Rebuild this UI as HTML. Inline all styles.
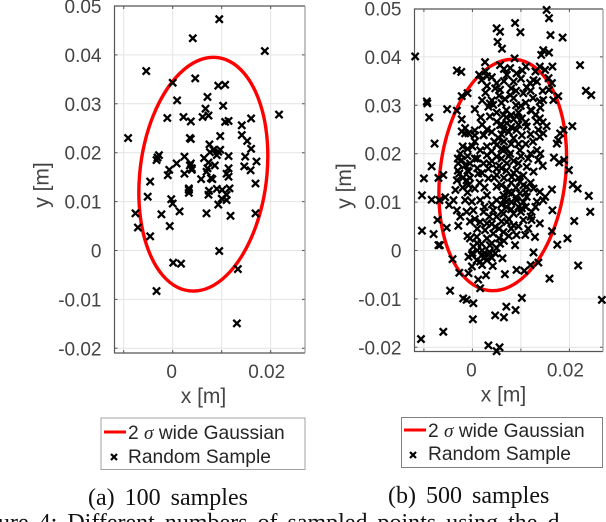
<!DOCTYPE html>
<html>
<head>
<meta charset="utf-8">
<style>
html,body{margin:0;padding:0;background:#fff;width:606px;height:522px;overflow:hidden}
svg{display:block}
text{font-family:"Liberation Sans",sans-serif}
.tick{font-size:19px;fill:#444}
.axt{font-size:21px;fill:#444}
.leg{font-size:19.2px;fill:#262626}
.cap{font-family:"Liberation Serif",serif;font-size:24px;fill:#111;word-spacing:4px}
</style>
</head>
<body>
<svg id="root" width="606" height="522" viewBox="0 0 606 522" xmlns="http://www.w3.org/2000/svg">
  <g id="panelA"></g>
  <g id="panelB"></g>

  <g>
    <rect x="101" y="418" width="204" height="51.5" fill="#fff" stroke="#a0a0a0" stroke-width="1"/>
    <line x1="104" x2="126" y1="432" y2="432" stroke="#f00" stroke-width="3"/>
    <text class="leg" x="128" y="439">2 <tspan font-family="Liberation Serif" font-style="italic">σ</tspan> wide Gaussian</text>
    <path d="M111 454L117 460M117 454L111 460" stroke="#000" stroke-width="2.2"/>
    <text class="leg" x="128" y="463">Random Sample</text>
  </g>
  <g>
    <rect x="401.5" y="417.5" width="201" height="50" fill="#fff" stroke="#808080" stroke-width="1"/>
    <line x1="404" x2="426" y1="430" y2="430" stroke="#f00" stroke-width="3"/>
    <text class="leg" x="428" y="437">2 <tspan font-family="Liberation Serif" font-style="italic">σ</tspan> wide Gaussian</text>
    <path d="M410 452L416 458M416 452L410 458" stroke="#000" stroke-width="2.2"/>
    <text class="leg" x="428" y="460">Random Sample</text>
  </g>

  <text class="cap" x="88" y="505">(a) 100 samples</text>
  <text class="cap" x="388" y="503">(b) 500 samples</text>
  <text class="cap" x="-2" y="530">ure 4: Different numbers of sampled points using the d</text>
</svg>
<script>
// All values in millimetres (axis labels show metres).
const yTickValues = [50, 40, 30, 20, 10, 0, -10, -20];
const yTickLabels = ['0.05', '0.04', '0.03', '0.02', '0.01', '0', '-0.01', '-0.02'];
const xTickValues = [-10, 0, 10, 20];
const xTickLabels = ['', '0', '', '0.02'];

const ellipseX = [19.25,19.34,18.54,16.89,14.53,11.6,8.3,4.86,1.53,-1.49,-3.98,-5.78,-6.75,-6.84,-6.04,-4.39,-2.03,0.9,4.2,7.64,10.97,13.99,16.48,18.28];
const ellipseY = [15.6,21.79,27.55,32.5,36.3,38.69,39.5,38.69,36.3,32.5,27.55,21.79,15.6,9.41,3.65,-1.3,-5.1,-7.49,-8.3,-7.49,-5.1,-1.3,3.65,9.41];

const samplesAX = [9.5,4.1,18.8,-5.4,0,4.6,9.3,10.7,0.9,7.1,10.3,6.7,-1.1,2.2,3.7,6.1,7.3,10.7,11.4,16,21.7,14.1,-9.1,3.7,9.7,14.1,15.2,7.5,16,7.6,9.3,9.7,-2.8,-3.1,2.4,11.4,14.8,6.4,17.1,0.8,3.7,7.3,8.6,14.6,11.4,-0.7,3.9,7.1,15.9,-1,2.4,11,5.8,7.8,-4.6,16.9,3.3,7.4,9,11.6,10.1,-5.1,-0.3,3.3,7.3,11,0,9.3,11,10,-7.6,-2.3,1.4,6.9,11.8,16.9,-7.1,-0.6,-4.6,9.5,0.1,1.7,13.3,-3.3,13.1,3.5,3.9,6.9,-3.3,8.3,9,11.4,3.3,8.1,3.5];
const samplesAY = [47.3,43.4,40.8,36.7,34.3,35.2,33.7,33.9,30.7,31.4,29.6,29,27.1,27.3,26.4,27.3,27.6,26.3,26.5,27,27.8,25.6,23,22.8,23.4,23.6,22.4,21.7,20.8,20.1,20.2,20.6,19.5,19,19.2,19.3,19.2,18.9,18.2,17.8,17.8,18,17.4,17.2,16.8,16.5,16.8,16.8,16.4,15.4,15.7,15.7,14.6,14.8,14.1,13.7,12.4,12.2,12.6,12.7,12.4,11,10.5,11.8,11.4,11.4,9.6,9.4,10.3,10.6,7.6,7.4,8,7.6,7.1,7.6,4.7,5,2.9,-0.1,-2.5,-2.7,-3.8,-8.3,-14.9,17.4,16.5,16.1,18.5,20.6,19.5,15.1,12.7,14.6,23];

const samplesBX = [15.3,15.8,16.1,18.6,8.8,9.9,5,5.7,5.2,6.1,-11.8,22.2,23.4,24.5,14.6,14.2,15.8,8.7,2.6,-3.2,-2.3,13.9,16.5,15,5.7,7.8,10.3,1.4,2.7,1.9,4,7.1,9.1,8.5,12.6,11.9,11.2,13.3,15.7,16.4,5,4.7,5.7,2.7,15.8,-1,-2.2,17.7,16.7,7.8,6.7,8.5,-9.4,-9.3,-5.2,-3.2,0.5,-8.9,3.6,3.3,4.3,10,13.9,14.6,12.2,6.4,1.7,3.6,-2.2,9.1,8.5,10.2,13.9,13.3,5,5.7,-1.5,0.5,-2.2,-0.8,2.3,11.2,15.3,13.6,18.8,20.6,18.1,9.1,6.4,14.6,7.1,
-7.8,-1.5,0.5,2.3,5.4,8.5,10.2,13.9,17.7,17.4,0.5,-2.5,-2.2,-1.5,-2.9,-8.4,-10,-7,-6,-3.2,-1.2,-2.7,-0.8,1.6,3,2.3,1.2,3.3,5,6.4,5,7.8,9.8,13.3,13.6,11.2,12.6,5,7.1,9.1,3.3,5,8.1,9.8,16.8,17.9,18.9,19.9,20.7,21.7,24,24.3,21,19.6,17.5,16.4,16.5,16.4,15,13.9,12.6,11.2,7.1,8.1,9.8,5,6.4,0.5,-0.8,-10.4,-8.4,-6.8,-5.6,-3.9,-4.8,-3.2,-1.5,-0.1,1.6,3,5,7.1,9.1,11.2,13.3,14.6,-10.4,-8,-7.2,-5.3,-2.9,-7,-6.7,-2.5,-1.2,0.2,2.3,4.3,6.4,8.5,10.2,12.2,7.1,8.5,10.5,12.2,13.9,1.6,3,4.7,2.6,0.9,-0.5,4.3,6.4,9.1,10.9,12.9,1.9,3.6,5.7,8.8,0.2,
-4.1,-4.6,-2.7,-0.8,-0.1,-0.8,0.9,2.3,3.3,4.7,6.2,4.2,2.8,1.2,1.6,6.7,9.1,10.7,12,13.6,12.6,15.9,21.8,-1.9,-1.2,0.2,0.1,-6,-10.6,3.3,5.6,5,4.7,6.5,8.9,7,10.2,26.7,-0.1,1.6,2.6,
2,3,4,6,7.5,8,9.5,11,12,14.5,4.5,6.5,9.5,11,12.5,3,-1,-2,-3,-1,0.5,1,-0.5,-2,-1,1.5,2.5,4,6,7,6.5,8,9,10.5,11.5,12,14,14.5,7,8,9.5,10.5,6,4,2.5,0.5,-0.5,1,3.5,6,9.5,11.5,7.5,5.5,3,2,3.5,5,1,0,2,3,4,-1,9.5,7,11,12.5,6,5,2,8,10,6.5,3,11,
6,7.5,8.5,5.5,4.5,6,7.5,9,8,6.5,9.5,10.5,11,12,8.5,9.5,10,8,7,6,4,3.5,2,1,0,-0.5,-1,-3,-2,-3.5,6,7.5,5,4,5.5,8,6.5,4,2.5,1,10,11,12,13,6,8,7,9,12,13,14,4,5.5,3,9,10.5,12,6.5,13,14.5];
const samplesBY = [49.7,48,44.5,44,47,45.1,45.9,45.2,43.1,41.7,40.1,38.3,33,32.1,41.4,40.4,40.9,39.7,38.9,37.2,36.9,38,38,37.3,38.3,37.7,37.2,36.3,37,35.2,35.8,36.3,36.6,34.9,35.2,34.6,33.7,34.9,35.6,34.6,34.6,33.5,33.2,32.6,33.2,32.5,31.9,31.9,31.1,32.1,31.3,31.5,30.8,30.4,29.2,28.9,29.2,27.5,30.4,29.7,30.1,29.9,30.8,31.1,28.9,28,27.5,27.7,27.1,27.7,27.1,27.3,27.3,26.6,26.6,25.9,25.3,24.8,24.6,24.2,23.9,25.6,25.7,24.9,24.9,25.7,24.2,24.9,24.9,24.2,26.3,
22.1,24.2,23.8,23.8,23.2,23.2,23.8,23.5,22.8,22.1,22.5,20,18.7,17.6,18,17.4,14.9,15,15.6,14.5,14.5,15.9,16.3,20.7,19.7,18,15.9,16.9,21.8,20.7,19.4,20,20.7,20.7,18.7,17.3,16.3,16.9,18,16.6,14.9,15.6,15.2,14.2,19.2,18.2,18.7,16.6,13.6,12.8,11.3,8,6.1,2.5,1.2,4,8.3,12.6,11.1,12.1,12.8,13.2,12.8,11.8,11.8,13.2,11.4,12.8,13.5,11.4,10.5,10.4,11,10.4,9.4,8.3,10.4,10.1,10.4,11.4,10.4,10.1,10.4,11.1,10.1,10.4,4.1,3.4,6.3,4.7,5.1,1.1,1.1,7,8,8.3,8,8.3,7.6,7.6,8.7,8,5.9,5.2,6.3,6.3,5.6,5.9,5.6,4.9,4.2,2.8,2.5,3.5,3.8,3.2,3.2,2.8,1.4,1.1,1.4,1.1,0.8,
-1.8,-8.3,-4.6,-4.7,-3.3,-1.3,-2,-1.6,-0.9,-0.6,-1.6,-3.2,-5.1,-6,-7.8,-4.9,-4,-4.2,-3,-2.5,-0.4,-5.8,-3.1,-9.9,-10.2,-10.9,-14.2,-16.8,-18.3,-19.6,-20,-20.8,-13.4,-13.8,-12.3,-11.6,-9.8,-10.2,-0.9,-2.3,-1.3,
26,25,24.5,24,24.5,25.5,26,26.5,24,26.5,22.5,22.5,22,22,22.5,21.5,21,21.5,19,19.5,19,17,15,13,12,14,13,18.5,19,16.5,15,14,13,15.5,19,20,20,17.5,9,8.5,9,10,9.5,9.5,9,6.5,6,4.5,7,6,5,4.5,3,2.5,2.5,0,-0.3,0.5,0,-0.5,-3,-2,-1.5,3,28.5,29,30.5,31.5,30.5,28.5,31,33.5,35.5,35,36,38,
17,19.5,18.5,17.5,15,13.5,12,11,10,10.5,15,13.5,12,14,16,18,19.5,22,21,21,20.5,18,16,19,21.5,18,16.5,16.5,15,12.5,8,6.5,7,5.5,4.5,4.5,2,1.5,-0.5,1.5,8,9,7,9,26,28,27.5,30,29,28,29.5,31,32,34,33,32.5,33,37.5,37,33];

const SVGNS = 'http://www.w3.org/2000/svg';

function makeEl(parent, tag, attrs) {
  const el = document.createElementNS(SVGNS, tag);
  for (const k in attrs) el.setAttribute(k, attrs[k]);
  parent.appendChild(el);
  return el;
}

function drawPanel(parent, cfg, xs, ys) {
  const sx = v => cfg.x0 + cfg.kx * v;
  const sy = v => cfg.y0 - cfg.ky * v;

  yTickValues.forEach((v, i) => {
    const y = sy(v);
    if (y > cfg.top + 1) {
      const g = makeEl(parent, 'line', {x1: cfg.left, x2: cfg.right, y1: y, y2: y, stroke: '#e4e4e4', 'stroke-width': 1});
      
      
      const t1 = makeEl(parent, 'path', {d: `M${cfg.left} ${y}h3M${cfg.right} ${y}h-3`, stroke: '#555', 'stroke-width': 1, fill: 'none'});
      
      
    }
    const t = makeEl(parent, 'text', {x: cfg.left - 13, y: y + 7, 'text-anchor': 'end', class: 'tick'});
    t.textContent = yTickLabels[i];
    
    
  });

  xTickValues.forEach((v, i) => {
    const x = sx(v);
    const g = makeEl(parent, 'line', {x1: x, x2: x, y1: cfg.top, y2: cfg.bottom, stroke: '#e4e4e4', 'stroke-width': 1});
    
    
    const t1 = makeEl(parent, 'path', {d: `M${x} ${cfg.bottom}v-3M${x} ${cfg.top}v3`, stroke: '#555', 'stroke-width': 1, fill: 'none'});
    
    
    if (xTickLabels[i]) {
      const t = makeEl(parent, 'text', {x: x - (v ? 4 : 1), y: cfg.bottom + 25, 'text-anchor': 'middle', class: 'tick'});
      t.textContent = xTickLabels[i];
      
      
    }
  });

  const fr = makeEl(parent, 'path', {d: `M${cfg.right} ${cfg.top}H${cfg.left}V${cfg.bottom}H${cfg.right}`, fill: 'none', stroke: '#555', 'stroke-width': 1.2});
  
  
  const fr2 = makeEl(parent, 'line', {x1: cfg.right, x2: cfg.right, y1: cfg.top, y2: cfg.bottom, stroke: '#999', 'stroke-width': 1.2});
  
  

  // Gaussian ellipse: closed Catmull-Rom curve through the read points
  const n = ellipseX.length;
  const px = i => sx(ellipseX[(i + n) % n]);
  const py = i => sy(ellipseY[(i + n) % n]);
  let d = `M${px(0)} ${py(0)}`;
  for (let i = 0; i < n; i++) {
    const c1x = px(i) + (px(i + 1) - px(i - 1)) / 6;
    const c1y = py(i) + (py(i + 1) - py(i - 1)) / 6;
    const c2x = px(i + 1) - (px(i + 2) - px(i)) / 6;
    const c2y = py(i + 1) - (py(i + 2) - py(i)) / 6;
    d += `C${c1x} ${c1y} ${c2x} ${c2y} ${px(i + 1)} ${py(i + 1)}`;
  }
  const ell = makeEl(parent, 'path', {d: d + 'Z', fill: 'none', stroke: '#f00', 'stroke-width': 3.4});
  
  

  xs.forEach((v, i) => {
    const x = sx(v), y = sy(ys[i]), r = 3.6;
    const m = makeEl(parent, 'path', {d: `M${x - r} ${y - r}L${x + r} ${y + r}M${x + r} ${y - r}L${x - r} ${y + r}`, stroke: '#000', 'stroke-width': 2.3, fill: 'none'});
    
    
  });

  const xl = makeEl(parent, 'text', {x: cfg.xLabelX, y: cfg.bottom + 50, 'text-anchor': 'middle', class: 'axt'});
  xl.textContent = 'x [m]';
  
  
  const yl = makeEl(parent, 'text', {transform: `translate(${cfg.yLabelX} ${cfg.yLabelY}) rotate(-90)`, 'text-anchor': 'middle', class: 'axt'});
  yl.textContent = 'y [m]';
  
  
}

drawPanel(document.getElementById('panelA'),
  {left: 114.5, right: 305, top: 6, bottom: 353, x0: 172.7, kx: 4.9, y0: 250.5, ky: 4.89, xLabelX: 203.5, yLabelX: 48.5, yLabelY: 185},
  samplesAX, samplesAY);
drawPanel(document.getElementById('panelB'),
  {left: 414.5, right: 603, top: 9, bottom: 351.5, x0: 472.4, kx: 4.85, y0: 250.5, ky: 4.84, xLabelX: 503.5, yLabelX: 351, yLabelY: 186},
  samplesBX, samplesBY);
</script>
</body>
</html>
